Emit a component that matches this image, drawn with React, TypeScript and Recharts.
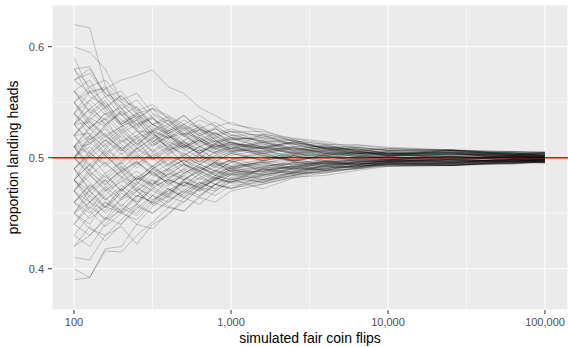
import { LineChart, Line, XAxis, YAxis, CartesianGrid, ReferenceLine } from 'recharts';

// number of flips at each checkpoint (log spaced)
const flips = [100, 126, 158, 200, 251, 316, 398, 501, 631, 794, 1000, 1585, 2512, 3981, 6310, 10000, 25119, 63096, 100000];

// proportion of heads at each checkpoint, one array per simulated run
const run01 = [0.62, 0.617, 0.565, 0.539, 0.524, 0.523, 0.507, 0.511, 0.506, 0.511, 0.505, 0.5087, 0.4966, 0.503, 0.5041, 0.4975, 0.5041, 0.4995, 0.5015];
const run02 = [0.6, 0.595, 0.58, 0.552, 0.558, 0.54, 0.533, 0.521, 0.525, 0.514, 0.518, 0.5154, 0.512, 0.5061, 0.5094, 0.5065, 0.5061, 0.502, 0.5046];
const run03 = [0.59, 0.56, 0.562, 0.545, 0.53, 0.537, 0.522, 0.528, 0.515, 0.509, 0.514, 0.5084, 0.5131, 0.5084, 0.5035, 0.5055, 0.498, 0.4944, 0.4969];
const run04 = [0.58, 0.582, 0.555, 0.56, 0.543, 0.53, 0.534, 0.52, 0.512, 0.518, 0.51, 0.5042, 0.4962, 0.4922, 0.4959, 0.4937, 0.4934, 0.4964, 0.4985];
const run05 = [0.58, 0.555, 0.547, 0.53, 0.538, 0.52, 0.51, 0.516, 0.525, 0.522, 0.516, 0.5182, 0.5155, 0.512, 0.5117, 0.5095, 0.507, 0.5031, 0.5045];
const run06 = [0.57, 0.58, 0.558, 0.55, 0.534, 0.545, 0.538, 0.53, 0.522, 0.527, 0.521, 0.514, 0.507, 0.5114, 0.5062, 0.5023, 0.5065, 0.5046, 0.501];
const run07 = [0.56, 0.54, 0.552, 0.53, 0.518, 0.524, 0.508, 0.515, 0.502, 0.497, 0.504, 0.4979, 0.5058, 0.5015, 0.4972, 0.501, 0.4969, 0.501, 0.498];
const run08 = [0.56, 0.57, 0.544, 0.556, 0.542, 0.548, 0.535, 0.522, 0.518, 0.51, 0.512, 0.5112, 0.5045, 0.5074, 0.5028, 0.505, 0.5036, 0.5055, 0.5046];
const run09 = [0.55, 0.564, 0.548, 0.53, 0.54, 0.527, 0.522, 0.53, 0.538, 0.529, 0.52, 0.521, 0.5176, 0.5144, 0.509, 0.507, 0.507, 0.5055, 0.5051];
const run10 = [0.55, 0.528, 0.535, 0.514, 0.52, 0.505, 0.513, 0.5, 0.494, 0.502, 0.497, 0.4902, 0.4944, 0.4901, 0.4954, 0.4922, 0.493, 0.4959, 0.495];
const run11 = [0.54, 0.552, 0.539, 0.545, 0.526, 0.511, 0.518, 0.522, 0.51, 0.515, 0.507, 0.5056, 0.5098, 0.5038, 0.5081, 0.5035, 0.501, 0.4974, 0.5005];
const run12 = [0.54, 0.52, 0.51, 0.522, 0.508, 0.517, 0.525, 0.515, 0.522, 0.512, 0.518, 0.5126, 0.504, 0.5093, 0.5051, 0.503, 0.4985, 0.5026, 0.5];
const run13 = [0.53, 0.544, 0.555, 0.538, 0.546, 0.53, 0.524, 0.534, 0.526, 0.52, 0.524, 0.5196, 0.516, 0.5078, 0.5115, 0.5083, 0.507, 0.5055, 0.5049];
const run14 = [0.53, 0.513, 0.522, 0.506, 0.517, 0.498, 0.508, 0.495, 0.503, 0.493, 0.498, 0.4874, 0.492, 0.4966, 0.4931, 0.497, 0.499, 0.4959, 0.4974];
const run15 = [0.53, 0.532, 0.518, 0.528, 0.536, 0.521, 0.514, 0.509, 0.516, 0.505, 0.51, 0.5028, 0.4974, 0.5017, 0.5058, 0.5015, 0.5066, 0.5015, 0.5036];
const run16 = [0.52, 0.536, 0.528, 0.542, 0.53, 0.535, 0.527, 0.519, 0.526, 0.516, 0.508, 0.5154, 0.5086, 0.5051, 0.5009, 0.5045, 0.5046, 0.498, 0.499];
const run17 = [0.52, 0.505, 0.492, 0.504, 0.491, 0.502, 0.51, 0.504, 0.496, 0.505, 0.511, 0.5084, 0.5048, 0.4971, 0.5016, 0.4985, 0.502, 0.5046, 0.5031];
const run18 = [0.52, 0.522, 0.508, 0.497, 0.509, 0.5, 0.488, 0.495, 0.486, 0.494, 0.49, 0.4944, 0.4891, 0.4926, 0.4903, 0.495, 0.4954, 0.499, 0.4964];
const run19 = [0.51, 0.528, 0.515, 0.526, 0.512, 0.524, 0.517, 0.525, 0.514, 0.519, 0.513, 0.5084, 0.5146, 0.5084, 0.506, 0.5085, 0.5061, 0.5026, 0.5041];
const run20 = [0.51, 0.492, 0.504, 0.488, 0.496, 0.484, 0.49, 0.498, 0.491, 0.486, 0.492, 0.4958, 0.4981, 0.4947, 0.4979, 0.496, 0.4974, 0.5015, 0.5005];
const run21 = [0.51, 0.512, 0.53, 0.518, 0.505, 0.514, 0.503, 0.51, 0.518, 0.508, 0.502, 0.507, 0.5006, 0.504, 0.4988, 0.5008, 0.5041, 0.4995, 0.501];
const run22 = [0.5, 0.518, 0.502, 0.514, 0.524, 0.51, 0.52, 0.508, 0.5, 0.509, 0.504, 0.4972, 0.503, 0.5063, 0.5025, 0.5003, 0.4964, 0.499, 0.498];
const run23 = [0.5, 0.484, 0.496, 0.482, 0.494, 0.503, 0.492, 0.498, 0.507, 0.499, 0.506, 0.514, 0.5074, 0.5105, 0.5055, 0.5033, 0.507, 0.5036, 0.5026];
const run24 = [0.5, 0.51, 0.495, 0.483, 0.476, 0.49, 0.48, 0.474, 0.482, 0.489, 0.485, 0.486, 0.4933, 0.4886, 0.4942, 0.4952, 0.4949, 0.498, 0.4959];
const run25 = [0.5, 0.485, 0.47, 0.478, 0.488, 0.476, 0.485, 0.494, 0.488, 0.496, 0.493, 0.4986, 0.504, 0.5006, 0.5037, 0.5025, 0.501, 0.5031, 0.502];
const run26 = [0.49, 0.504, 0.494, 0.51, 0.5, 0.512, 0.52, 0.51, 0.516, 0.523, 0.513, 0.5098, 0.5141, 0.5097, 0.5069, 0.502, 0.5056, 0.5, 0.4985];
const run27 = [0.49, 0.472, 0.486, 0.47, 0.482, 0.476, 0.488, 0.48, 0.491, 0.484, 0.492, 0.4846, 0.4898, 0.4951, 0.4913, 0.4957, 0.4944, 0.4954, 0.4974];
const run28 = [0.49, 0.506, 0.52, 0.508, 0.494, 0.505, 0.493, 0.502, 0.51, 0.504, 0.509, 0.5042, 0.4979, 0.5023, 0.4975, 0.4982, 0.5015, 0.4969, 0.499];
const run29 = [0.48, 0.466, 0.48, 0.492, 0.48, 0.493, 0.482, 0.49, 0.48, 0.488, 0.484, 0.4888, 0.485, 0.4884, 0.4926, 0.4932, 0.4944, 0.4974, 0.4954];
const run30 = [0.48, 0.494, 0.482, 0.496, 0.508, 0.498, 0.506, 0.514, 0.506, 0.513, 0.505, 0.5126, 0.5064, 0.5021, 0.5048, 0.5043, 0.5026, 0.5041, 0.5015];
const run31 = [0.48, 0.47, 0.455, 0.468, 0.46, 0.472, 0.481, 0.475, 0.486, 0.48, 0.488, 0.4916, 0.4952, 0.4914, 0.4956, 0.4985, 0.4954, 0.4985, 0.4995];
const run32 = [0.47, 0.487, 0.475, 0.49, 0.478, 0.49, 0.5, 0.492, 0.502, 0.495, 0.488, 0.4874, 0.4931, 0.4973, 0.4947, 0.4982, 0.5005, 0.4985, 0.501];
const run33 = [0.47, 0.46, 0.474, 0.462, 0.478, 0.47, 0.464, 0.475, 0.47, 0.482, 0.478, 0.4804, 0.4869, 0.4907, 0.4919, 0.4947, 0.493, 0.4969, 0.498];
const run34 = [0.47, 0.49, 0.502, 0.488, 0.497, 0.485, 0.478, 0.486, 0.494, 0.488, 0.496, 0.4888, 0.4918, 0.4962, 0.4993, 0.4975, 0.499, 0.502, 0.5];
const run35 = [0.46, 0.475, 0.462, 0.475, 0.465, 0.48, 0.474, 0.486, 0.492, 0.485, 0.491, 0.4958, 0.491, 0.4964, 0.494, 0.4965, 0.4959, 0.4949, 0.4969];
const run36 = [0.46, 0.45, 0.466, 0.48, 0.47, 0.482, 0.49, 0.498, 0.488, 0.495, 0.49, 0.4944, 0.5016, 0.4966, 0.5009, 0.499, 0.5026, 0.5005, 0.5015];
const run37 = [0.46, 0.445, 0.456, 0.45, 0.464, 0.478, 0.472, 0.466, 0.476, 0.482, 0.477, 0.479, 0.484, 0.4886, 0.4899, 0.4927, 0.4934, 0.4945, 0.4964];
const run38 = [0.45, 0.466, 0.455, 0.472, 0.484, 0.475, 0.486, 0.48, 0.49, 0.496, 0.491, 0.4972, 0.5022, 0.499, 0.5041, 0.5013, 0.5046, 0.501, 0.5026];
const run39 = [0.45, 0.44, 0.46, 0.452, 0.466, 0.46, 0.47, 0.48, 0.472, 0.481, 0.488, 0.4804, 0.4874, 0.4933, 0.4963, 0.495, 0.4969, 0.4959, 0.4985];
const run40 = [0.44, 0.456, 0.445, 0.464, 0.472, 0.466, 0.48, 0.475, 0.485, 0.492, 0.488, 0.493, 0.4946, 0.4989, 0.4959, 0.499, 0.4964, 0.501, 0.5];
const run41 = [0.44, 0.43, 0.444, 0.452, 0.44, 0.456, 0.465, 0.46, 0.473, 0.47, 0.479, 0.4832, 0.4861, 0.4903, 0.4938, 0.4955, 0.4974, 0.498, 0.4969];
const run42 = [0.43, 0.448, 0.46, 0.45, 0.458, 0.472, 0.465, 0.478, 0.474, 0.484, 0.48, 0.486, 0.491, 0.4958, 0.4929, 0.4975, 0.4939, 0.4985, 0.498];
const run43 = [0.42, 0.438, 0.425, 0.44, 0.456, 0.45, 0.462, 0.47, 0.464, 0.476, 0.485, 0.4776, 0.4853, 0.4871, 0.491, 0.494, 0.493, 0.4964, 0.4954];
const run44 = [0.41, 0.408, 0.43, 0.438, 0.422, 0.44, 0.448, 0.464, 0.458, 0.47, 0.478, 0.4846, 0.4882, 0.492, 0.4965, 0.4972, 0.501, 0.5015, 0.5005];
const run45 = [0.4, 0.392, 0.418, 0.42, 0.44, 0.436, 0.45, 0.46, 0.472, 0.466, 0.475, 0.4776, 0.484, 0.4913, 0.4922, 0.4945, 0.4954, 0.4995, 0.4974];
const run46 = [0.39, 0.392, 0.416, 0.415, 0.43, 0.442, 0.455, 0.452, 0.466, 0.476, 0.473, 0.4762, 0.4824, 0.484, 0.4885, 0.4922, 0.493, 0.4944, 0.4959];
const run47 = [0.53, 0.552, 0.562, 0.57, 0.574, 0.579, 0.564, 0.558, 0.545, 0.538, 0.53, 0.5252, 0.5144, 0.5084, 0.5076, 0.504, 0.5031, 0.5041, 0.502];
const run48 = [0.48, 0.502, 0.516, 0.503, 0.514, 0.526, 0.518, 0.508, 0.516, 0.507, 0.514, 0.5084, 0.5085, 0.504, 0.5012, 0.5, 0.498, 0.502, 0.5005];
const run49 = [0.51, 0.488, 0.476, 0.488, 0.47, 0.48, 0.467, 0.48, 0.488, 0.481, 0.49, 0.4818, 0.4909, 0.4888, 0.4931, 0.496, 0.4964, 0.498, 0.499];
const run50 = [0.5, 0.52, 0.536, 0.522, 0.53, 0.514, 0.522, 0.51, 0.504, 0.513, 0.517, 0.5098, 0.5035, 0.5015, 0.4961, 0.4987, 0.4959, 0.4974, 0.4964];
const run51 = [0.55, 0.532, 0.52, 0.528, 0.513, 0.5, 0.509, 0.494, 0.488, 0.496, 0.487, 0.4874, 0.496, 0.4941, 0.4986, 0.4967, 0.499, 0.5005, 0.4995];
const run52 = [0.49, 0.478, 0.462, 0.472, 0.458, 0.474, 0.466, 0.478, 0.472, 0.48, 0.486, 0.4916, 0.4899, 0.4954, 0.4936, 0.4977, 0.4974, 0.501, 0.5005];
const run53 = [0.52, 0.538, 0.55, 0.534, 0.526, 0.539, 0.53, 0.52, 0.51, 0.516, 0.508, 0.521, 0.5104, 0.507, 0.5092, 0.5063, 0.5051, 0.5031, 0.5036];
const run54 = [0.47, 0.452, 0.438, 0.45, 0.444, 0.46, 0.455, 0.468, 0.478, 0.472, 0.48, 0.4888, 0.4922, 0.4894, 0.4965, 0.497, 0.4985, 0.4959, 0.498];
const run55 = [0.54, 0.526, 0.54, 0.524, 0.534, 0.518, 0.528, 0.538, 0.526, 0.532, 0.523, 0.5238, 0.517, 0.5129, 0.5083, 0.5038, 0.507, 0.5031, 0.5041];
const run56 = [0.57, 0.558, 0.564, 0.55, 0.54, 0.524, 0.518, 0.527, 0.516, 0.508, 0.512, 0.5014, 0.4971, 0.5011, 0.5002, 0.5023, 0.501, 0.4995, 0.5005];
const run57 = [0.45, 0.472, 0.484, 0.47, 0.482, 0.492, 0.482, 0.488, 0.498, 0.491, 0.498, 0.5042, 0.5006, 0.5036, 0.5021, 0.5005, 0.4995, 0.5015, 0.5];
const run58 = [0.51, 0.504, 0.516, 0.506, 0.52, 0.53, 0.522, 0.512, 0.52, 0.526, 0.518, 0.5168, 0.5125, 0.5057, 0.5041, 0.5018, 0.5051, 0.502, 0.501];
const run59 = [0.56, 0.548, 0.53, 0.542, 0.528, 0.536, 0.52, 0.512, 0.504, 0.512, 0.506, 0.4972, 0.4934, 0.4975, 0.4945, 0.4962, 0.4985, 0.4969, 0.4985];
const run60 = [0.48, 0.46, 0.472, 0.456, 0.47, 0.458, 0.468, 0.478, 0.47, 0.476, 0.481, 0.472, 0.4818, 0.4865, 0.4901, 0.4935, 0.493, 0.4954, 0.4969];
const run61 = [0.58, 0.564, 0.57, 0.552, 0.545, 0.53, 0.537, 0.528, 0.52, 0.514, 0.52, 0.515, 0.506, 0.509, 0.504, 0.506, 0.5043, 0.5054, 0.5041];
const run62 = [0.43, 0.42, 0.44, 0.455, 0.448, 0.462, 0.47, 0.478, 0.473, 0.482, 0.49, 0.484, 0.488, 0.494, 0.491, 0.496, 0.493, 0.4959, 0.4968];
const run63 = [0.52, 0.5, 0.512, 0.494, 0.508, 0.518, 0.51, 0.522, 0.528, 0.521, 0.526, 0.518, 0.513, 0.511, 0.507, 0.508, 0.5068, 0.5044, 0.5051];
const run64 = [0.48, 0.464, 0.45, 0.462, 0.47, 0.458, 0.466, 0.48, 0.488, 0.482, 0.478, 0.485, 0.491, 0.488, 0.492, 0.495, 0.4939, 0.4949, 0.4963];
const run65 = [0.54, 0.56, 0.545, 0.528, 0.534, 0.516, 0.506, 0.514, 0.508, 0.498, 0.492, 0.496, 0.49, 0.495, 0.494, 0.4975, 0.4949, 0.4976, 0.4966];
const run66 = [0.5, 0.488, 0.508, 0.52, 0.51, 0.524, 0.534, 0.525, 0.53, 0.52, 0.512, 0.508, 0.504, 0.507, 0.502, 0.501, 0.5031, 0.5009, 0.502];
const run67 = [0.46, 0.47, 0.456, 0.472, 0.46, 0.476, 0.49, 0.482, 0.476, 0.488, 0.496, 0.504, 0.508, 0.503, 0.505, 0.503, 0.501, 0.5026, 0.5014];
const run68 = [0.56, 0.542, 0.53, 0.54, 0.524, 0.514, 0.524, 0.512, 0.504, 0.51, 0.516, 0.52, 0.512, 0.509, 0.51, 0.5065, 0.507, 0.5037, 0.5048];
const run69 = [0.49, 0.47, 0.48, 0.464, 0.476, 0.49, 0.484, 0.494, 0.484, 0.476, 0.472, 0.48, 0.484, 0.49, 0.493, 0.4925, 0.4949, 0.4952, 0.4973];
const run70 = [0.53, 0.516, 0.526, 0.508, 0.498, 0.508, 0.494, 0.504, 0.496, 0.506, 0.5, 0.492, 0.496, 0.493, 0.497, 0.496, 0.498, 0.4966, 0.4986];
const run71 = [0.51, 0.526, 0.54, 0.53, 0.538, 0.524, 0.53, 0.538, 0.526, 0.518, 0.524, 0.514, 0.516, 0.508, 0.504, 0.5025, 0.5065, 0.5026, 0.5036];
const run72 = [0.44, 0.46, 0.452, 0.47, 0.482, 0.474, 0.48, 0.49, 0.5, 0.492, 0.498, 0.506, 0.502, 0.496, 0.498, 0.4965, 0.4983, 0.4969, 0.4983];
const run73 = [0.55, 0.534, 0.546, 0.556, 0.54, 0.544, 0.53, 0.52, 0.528, 0.516, 0.506, 0.51, 0.503, 0.506, 0.508, 0.504, 0.5034, 0.5014, 0.5026];
const run74 = [0.47, 0.454, 0.47, 0.482, 0.472, 0.486, 0.478, 0.468, 0.478, 0.472, 0.482, 0.478, 0.487, 0.486, 0.491, 0.494, 0.493, 0.4973, 0.4957];
const run75 = [0.5, 0.516, 0.528, 0.512, 0.502, 0.49, 0.498, 0.486, 0.494, 0.488, 0.482, 0.49, 0.492, 0.497, 0.494, 0.497, 0.4983, 0.4963, 0.4983];
const run76 = [0.52, 0.534, 0.52, 0.508, 0.518, 0.506, 0.516, 0.506, 0.514, 0.522, 0.514, 0.504, 0.509, 0.505, 0.501, 0.5025, 0.501, 0.5017, 0.5003];
const run77 = [0.45, 0.436, 0.43, 0.444, 0.458, 0.45, 0.46, 0.472, 0.466, 0.476, 0.472, 0.484, 0.49, 0.489, 0.493, 0.4945, 0.4957, 0.4966, 0.4973];
const run78 = [0.57, 0.576, 0.558, 0.544, 0.552, 0.536, 0.524, 0.53, 0.52, 0.526, 0.518, 0.509, 0.514, 0.508, 0.504, 0.5035, 0.5048, 0.502, 0.5032];
const run79 = [0.49, 0.502, 0.486, 0.496, 0.48, 0.488, 0.476, 0.484, 0.492, 0.484, 0.489, 0.497, 0.502, 0.505, 0.503, 0.504, 0.5024, 0.5031, 0.5017];
const run80 = [0.51, 0.494, 0.478, 0.488, 0.474, 0.462, 0.472, 0.464, 0.476, 0.484, 0.48, 0.49, 0.487, 0.493, 0.496, 0.497, 0.4956, 0.4986, 0.498];
const run81 = [0.42, 0.43, 0.446, 0.44, 0.454, 0.466, 0.46, 0.47, 0.482, 0.476, 0.485, 0.491, 0.498, 0.495, 0.499, 0.4978, 0.5007, 0.499, 0.4997];
const run82 = [0.53, 0.544, 0.534, 0.548, 0.536, 0.544, 0.536, 0.526, 0.534, 0.528, 0.532, 0.522, 0.515, 0.512, 0.506, 0.507, 0.5058, 0.5044, 0.5029];
const run83 = [0.5, 0.514, 0.502, 0.49, 0.502, 0.492, 0.504, 0.512, 0.504, 0.512, 0.508, 0.514, 0.509, 0.504, 0.506, 0.502, 0.5044, 0.5015, 0.5024];
const run84 = [0.48, 0.494, 0.506, 0.492, 0.48, 0.488, 0.476, 0.484, 0.474, 0.48, 0.486, 0.48, 0.486, 0.492, 0.4915, 0.4955, 0.4942, 0.498, 0.4969];
const run85 = [0.54, 0.526, 0.512, 0.524, 0.512, 0.522, 0.512, 0.502, 0.51, 0.504, 0.496, 0.502, 0.497, 0.494, 0.498, 0.4985, 0.4963, 0.4986, 0.4991];
const run86 = [0.46, 0.476, 0.464, 0.452, 0.466, 0.46, 0.472, 0.464, 0.472, 0.48, 0.478, 0.49, 0.486, 0.493, 0.495, 0.494, 0.4949, 0.4983, 0.4974];
const run87 = [0.55, 0.56, 0.542, 0.532, 0.54, 0.53, 0.52, 0.51, 0.518, 0.51, 0.514, 0.506, 0.51, 0.51, 0.5065, 0.504, 0.5027, 0.5031, 0.5015];
const run88 = [0.47, 0.484, 0.472, 0.486, 0.496, 0.486, 0.494, 0.502, 0.494, 0.502, 0.508, 0.502, 0.498, 0.5025, 0.499, 0.5008, 0.499, 0.501, 0.5003];
const run89 = [0.51, 0.52, 0.504, 0.516, 0.504, 0.492, 0.502, 0.496, 0.504, 0.496, 0.504, 0.51, 0.506, 0.509, 0.505, 0.5055, 0.5043, 0.5041, 0.5022];
const run90 = [0.45, 0.46, 0.444, 0.458, 0.45, 0.466, 0.456, 0.452, 0.464, 0.46, 0.47, 0.476, 0.483, 0.488, 0.49, 0.4935, 0.4932, 0.4963, 0.4956];

const runs = [
  run01, run02, run03, run04, run05, run06, run07, run08, run09, run10,
  run11, run12, run13, run14, run15, run16, run17, run18, run19, run20,
  run21, run22, run23, run24, run25, run26, run27, run28, run29, run30,
  run31, run32, run33, run34, run35, run36, run37, run38, run39, run40,
  run41, run42, run43, run44, run45, run46, run47, run48, run49, run50,
  run51, run52, run53, run54, run55, run56, run57, run58, run59, run60,
  run61, run62, run63, run64, run65, run66, run67, run68, run69, run70,
  run71, run72, run73, run74, run75, run76, run77, run78, run79, run80,
  run81, run82, run83, run84, run85, run86, run87, run88, run89, run90,
];

const xTicks = [100, 1000, 10000, 100000];
const yTicks = [0.4, 0.5, 0.6];
const minorX = [316.2, 3162, 31623];
const minorY = [0.45, 0.55];
const fairValue = 0.5;

const data = flips.map((n, i) => {
  const row: any = { n };
  runs.forEach((r, j) => {
    row[`s${j}`] = r[i];
  });
  return row;
});

const font = '"Liberation Sans", Arial, Helvetica, sans-serif';
const tickStyle = { fontSize: 11, fill: '#4d4d4d', fontFamily: font };

export default function App() {
  return (
    <div style={{ position: 'absolute', left: 0, top: 0, background: '#fff' }}>
      <LineChart
        width={568}
        height={347}
        data={data}
        margin={{ top: 5, right: 0, bottom: 0, left: 0 }}
      >
        <CartesianGrid fill="#ebebeb" stroke="#ffffff" strokeWidth={1.1} />
        <CartesianGrid
          fill="none"
          stroke="#ffffff"
          strokeWidth={0.55}
          horizontalValues={minorY}
          verticalValues={minorX}
        />
        <XAxis
          dataKey="n"
          type="number"
          scale="log"
          domain={[72.4, 140100]}
          allowDataOverflow
          ticks={xTicks}
          tickFormatter={(v: number) => v.toLocaleString('en-US')}
          axisLine={false}
          tickLine={{ stroke: '#333333' }}
          tickSize={4}
          tickMargin={4}
          tick={tickStyle}
          height={37}
          label={{
            value: 'simulated fair coin flips',
            position: 'insideBottom',
            offset: 4,
            style: { fontSize: 14, fill: '#000', fontFamily: font },
          }}
        />
        <YAxis
          type="number"
          domain={[0.3628, 0.6376]}
          allowDataOverflow
          ticks={yTicks}
          tickFormatter={(v: number) => v.toFixed(1)}
          axisLine={false}
          tickLine={{ stroke: '#333333' }}
          tickSize={4}
          tickMargin={4}
          tick={tickStyle}
          width={52}
          label={{
            value: 'proportion landing heads',
            angle: -90,
            position: 'insideLeft',
            offset: 13,
            style: { fontSize: 14, fill: '#000', fontFamily: font, textAnchor: 'middle' },
          }}
        />
        <ReferenceLine y={fairValue} stroke="#ff0000" strokeWidth={1.4} zIndex={350} />
        {runs.map((_, j) => (
          <Line
            key={j}
            dataKey={`s${j}`}
            stroke="#000"
            strokeOpacity={0.2}
            strokeWidth={1}
            dot={false}
            activeDot={false}
            isAnimationActive={false}
          />
        ))}
      </LineChart>
    </div>
  );
}
